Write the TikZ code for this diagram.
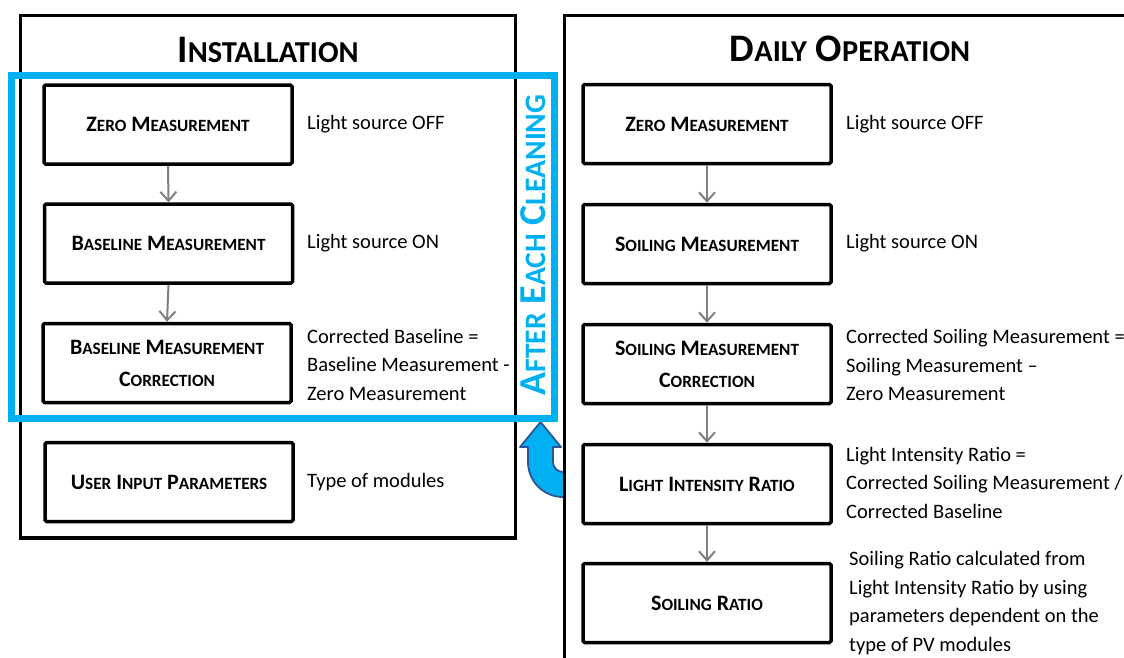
\documentclass[tikz,border=0pt]{standalone}
\usepackage{fontspec}
\setmainfont{Carlito}
\usetikzlibrary{arrows.meta}
\definecolor{cyanblue}{HTML}{00B0F0}
\definecolor{darkblue}{HTML}{2F5597}
\definecolor{arrowgray}{HTML}{7F7F7F}
% fake small capitals: the rest of a word set in capitals at 78% size
\makeatletter
\newcommand\smc[1]{{\dimen0=0.78\dimexpr\f@size pt\relax
  \edef\smcsz{\strip@pt\dimen0}\fontsize{\smcsz}{\smcsz}\selectfont #1}}
\makeatother

\begin{document}
\begin{tikzpicture}[x=1pt,y=-1pt,
  panel/.style={draw=black, line width=3.5pt, fill=white},
  stepbox/.style={draw=black, line width=3.5pt, rounded corners=1.5pt,
    minimum width=248pt, minimum height=79pt, inner sep=0pt, align=center,
    font=\bfseries\fontsize{22}{32}\selectfont},
  note/.style={anchor=west, align=left, inner sep=0pt,
    font=\fontsize{20.5}{28.5}\selectfont},
  flow/.style={draw=arrowgray, line width=2pt,
    -{Straight Barb[length=9pt,width=16pt]}},
  heading/.style={font=\bfseries\fontsize{39}{39}\selectfont, inner sep=0pt}
]
\useasboundingbox (0,0) rectangle (1124,657);
\clip (0,0) rectangle (1124,657);

% Installation panel
\draw[panel] (20.5,15.5) rectangle (515.5,538);
\node[heading] (instT) at (268,50) {I\smc{NSTALLATION}};

\node[stepbox] (l1) at (168,124.5) {Z\smc{ERO} M\smc{EASUREMENT}};
\node[stepbox] (l2) at (168.5,243.5) {B\smc{ASELINE} M\smc{EASUREMENT}};
\node[stepbox] (l3) at (167,363) {B\smc{ASELINE} M\smc{EASUREMENT}\\C\smc{ORRECTION}};
\node[stepbox] (l4) at (169,482) {U\smc{SER} I\smc{NPUT} P\smc{ARAMETERS}};

\draw[flow] (l1.south) -- (l2.north);
\draw[flow] (l2.south) -- (l3.north);

\node[note] (n1) at (307,124) {Light source OFF};
\node[note] (n2) at (307,243) {Light source ON};
\node[note] (n3) at (307,364.5) {Corrected Baseline =\\Baseline Measurement -\\Zero Measurement};
\node[note] (n4) at (307,482) {Type of modules};

% U-turn arrow leading back into the cleaning loop
\draw[darkblue, line width=1.8pt, fill=cyanblue, line join=round]
  (553,447) -- (553,462) arc[start angle=180, end angle=0, radius=10]
  -- (573,440) -- (598,440) -- (598,462)
  arc[start angle=0, end angle=180, radius=35]
  -- (528,447) -- (520,447) -- (540.5,422) -- (561,447) -- cycle;

% loop repeated after each cleaning
\draw[cyanblue, line width=7pt] (11,75) rectangle (554,418.5);
\node[heading, text=cyanblue, rotate=90, font=\bfseries\fontsize{38}{38}\selectfont]
  (loopT) at (533,245) {A\smc{FTER} E\smc{ACH} C\smc{LEANING}};

% Daily operation panel
\draw[panel] (564.5,15.5) rectangle (1140,680);
\node[heading] (dailyT) at (850,49) {D\smc{AILY} O\smc{PERATION}};

\node[stepbox] (r1) at (707,124) {Z\smc{ERO} M\smc{EASUREMENT}};
\node[stepbox] (r2) at (707,244) {S\smc{OILING} M\smc{EASUREMENT}};
\node[stepbox] (r3) at (707,364) {S\smc{OILING} M\smc{EASUREMENT}\\C\smc{ORRECTION}};
\node[stepbox] (r4) at (707,484) {L\smc{IGHT} I\smc{NTENSITY} R\smc{ATIO}};
\node[stepbox] (r5) at (707,603) {S\smc{OILING} R\smc{ATIO}};

\draw[flow] (r1.south) -- (r2.north);
\draw[flow] (r2.south) -- (r3.north);
\draw[flow] (r3.south) -- (r4.north);
\draw[flow] (r4.south) -- (r5.north);

\node[note] (m1) at (846,124) {Light source OFF};
\node[note] (m2) at (846,243) {Light source ON};
\node[note] (m3) at (846,365) {Corrected Soiling Measurement =\\Soiling Measurement --\\Zero Measurement};
\node[note] (m4) at (846,482.5) {Light Intensity Ratio =\\Corrected Soiling Measurement /\\Corrected Baseline};
\node[note] (m5) at (849,603) {Soiling Ratio calculated from\\Light Intensity Ratio by using\\parameters dependent on the\\type of PV modules};
\end{tikzpicture}
\end{document}
